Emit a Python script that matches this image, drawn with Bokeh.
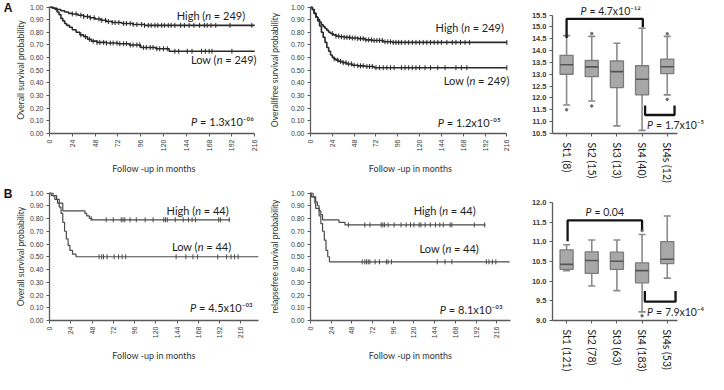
import numpy as np
from math import pi
from bokeh.plotting import figure
from bokeh.layouts import column, row
from bokeh.models import Label, FixedTicker, NumeralTickFormatter, Range1d, LinearAxis
from bokeh.embed import file_html
from bokeh.resources import INLINE

# ---------------- data ----------------
month_ticks = [0, 24, 48, 72, 96, 120, 144, 168, 192, 216]
surv_ticks = [0.0, 0.1, 0.2, 0.3, 0.4, 0.5, 0.6, 0.7, 0.8, 0.9, 1.0]

# Panel A, overall survival
a1_high_t = [0, 4, 8, 12, 16, 20, 24, 30, 36, 42, 48, 54, 60, 66, 76, 88, 100, 216]
a1_high_s = [1.0, 0.99, 0.98, 0.97, 0.96, 0.95, 0.945, 0.935, 0.925, 0.915, 0.905, 0.895, 0.885, 0.878, 0.87, 0.862, 0.855, 0.855]
a1_low_t = [0, 3, 6, 8, 10, 12, 14, 16, 18, 21, 24, 28, 32, 36, 40, 44, 50, 60, 72, 84, 96, 112, 126, 216]
a1_low_s = [1.0, 0.99, 0.98, 0.96, 0.94, 0.91, 0.89, 0.87, 0.855, 0.84, 0.82, 0.80, 0.78, 0.765, 0.745, 0.73, 0.72, 0.715, 0.71, 0.70, 0.68, 0.67, 0.65, 0.65]
a1_high_cens = [24, 28, 33, 36, 40, 43, 47, 52, 55, 59, 62, 66, 69, 73, 78, 81, 85, 88, 92, 97, 100, 104, 107, 111, 114, 118, 121, 125, 128, 132, 138, 142, 147, 152, 158, 163, 166, 170, 175, 190, 213]
a1_low_cens = [33, 38, 42, 46, 50, 53, 57, 60, 64, 67, 71, 74, 78, 81, 85, 88, 92, 95, 99, 102, 106, 109, 113, 116, 120, 124, 132, 136, 145, 150, 160, 164, 168, 171, 192]

# Panel A, overallfree survival
a2_high_t = [0, 2, 4, 6, 8, 10, 12, 14, 16, 18, 20, 22, 25, 28, 32, 37, 44, 52, 60, 68, 80, 90, 216]
a2_high_s = [1.0, 0.98, 0.95, 0.92, 0.90, 0.88, 0.86, 0.845, 0.83, 0.815, 0.80, 0.79, 0.78, 0.77, 0.765, 0.76, 0.755, 0.75, 0.74, 0.735, 0.725, 0.72, 0.72]
a2_low_t = [0, 2, 4, 6, 8, 10, 12, 14, 16, 18, 20, 22, 24, 26, 28, 31, 35, 40, 46, 52, 60, 70, 216]
a2_low_s = [1.0, 0.98, 0.95, 0.92, 0.89, 0.85, 0.80, 0.76, 0.72, 0.68, 0.65, 0.62, 0.60, 0.59, 0.58, 0.57, 0.56, 0.55, 0.54, 0.535, 0.53, 0.52, 0.52]
a2_high_cens = [24, 28, 31, 34, 37, 40, 43, 46, 49, 52, 55, 58, 61, 64, 67, 70, 73, 76, 79, 82, 85, 88, 91, 94, 97, 100, 104, 108, 112, 116, 120, 124, 128, 132, 136, 140, 144, 150, 156, 160, 165, 170, 175, 216]
a2_low_cens = [26, 30, 33, 36, 39, 42, 45, 48, 52, 55, 58, 62, 65, 68, 72, 76, 80, 84, 88, 92, 100, 104, 108, 112, 116, 120, 126, 132, 140, 148, 160, 166, 172, 216]

# Panel B, overall survival
b1_high_t = [0, 4, 8, 11, 15, 40, 42, 45, 48, 204]
b1_high_s = [1.0, 0.98, 0.95, 0.92, 0.86, 0.84, 0.82, 0.80, 0.79, 0.79]
b1_low_t = [0, 2, 6, 9, 11, 13, 15, 17, 19, 21, 23, 26, 30, 236]
b1_low_s = [1.0, 0.98, 0.95, 0.92, 0.89, 0.84, 0.77, 0.70, 0.64, 0.59, 0.55, 0.52, 0.50, 0.50]
b1_high_cens = [47, 64, 72, 81, 83, 85, 91, 98, 108, 117, 129, 131, 133, 142, 151, 157, 161, 165, 191, 193, 203]
b1_low_cens = [56, 59, 61, 65, 73, 78, 82, 86, 143, 154, 162, 167, 190, 200, 205, 209, 213]

# Panel B, relapsefree survival
b2_high_t = [0, 3, 6, 8, 10, 12, 14, 33, 40, 203]
b2_high_s = [1.0, 0.97, 0.93, 0.90, 0.86, 0.83, 0.79, 0.77, 0.75, 0.75]
b2_low_t = [0, 1, 5, 6, 10, 12, 14, 16, 18, 20, 22, 231]
b2_low_s = [1.0, 0.97, 0.92, 0.88, 0.82, 0.76, 0.70, 0.63, 0.55, 0.50, 0.46, 0.46]
b2_high_cens = [44, 63, 69, 82, 84, 86, 90, 97, 105, 111, 116, 120, 126, 128, 133, 139, 145, 150, 154, 162, 164, 190, 202]
b2_low_cens = [60, 63, 65, 67, 69, 75, 80, 88, 90, 94, 147, 156, 164, 204, 207, 211, 215]

# Box plots
a3_labels = ["St1 (8)", "St2 (15)", "St3 (13)", "St4 (40)", "St4s (12)"]
a3_upper = [14.63, 14.60, 14.31, 14.94, 14.60]
a3_q3 = [13.80, 13.58, 13.56, 13.36, 13.64]
a3_med = [13.40, 13.31, 13.11, 12.79, 13.32]
a3_q1 = [13.00, 12.90, 12.44, 12.13, 13.03]
a3_lower = [11.70, 11.87, 10.82, 10.63, 12.13]
a3_out_x = [1, 2, 2, 5, 5]
a3_out_y = [11.50, 14.72, 11.66, 14.71, 11.94]

b3_labels = ["St1 (121)", "St2 (78)", "St3 (63)", "St4 (183)", "St4s (53)"]
b3_upper = [10.93, 11.05, 11.05, 11.19, 11.66]
b3_q3 = [10.80, 10.75, 10.74, 10.47, 11.01]
b3_med = [10.43, 10.53, 10.51, 10.27, 10.56]
b3_q1 = [10.30, 10.20, 10.30, 9.96, 10.45]
b3_lower = [10.27, 9.88, 9.76, 9.22, 10.08]
b3_out_x = [4, 4]
b3_out_y = [11.29, 9.12]

# ---------------- styling ----------------
FONT = "Lato"
TICKFONT = "Liberation Sans"
TXT = "#1e1e1e"
AX = "#5a5a5a"


def base_axes(p):
    p.outline_line_color = None
    p.xgrid.visible = False
    p.ygrid.visible = False
    for ax in (p.xaxis[0], p.yaxis[0]):
        ax.axis_line_color = AX
        ax.axis_line_width = 1.3
        ax.major_tick_line_color = AX
        ax.major_tick_in = 0
        ax.major_tick_out = 3
        ax.minor_tick_line_color = None
        ax.major_label_text_font = TICKFONT
        ax.major_label_text_color = "#3a3a3a"
        ax.major_label_standoff = 3
        ax.axis_label_text_font = FONT
        ax.axis_label_text_font_style = "normal"
        ax.axis_label_text_color = "#333333"


def rich(p, x, y, pre, it, post, gap, size="11px"):
    kw = dict(x=x, y=y, text_font=FONT, text_font_size=size, text_color=TXT,
              text_baseline="middle")
    if pre:
        p.add_layout(Label(text=pre, text_align="right", **kw))
    p.add_layout(Label(text=it, text_align="left", text_font_style="italic", **kw))
    p.add_layout(Label(text=post, text_align="left", x_offset=gap, **kw))


def panel_letter(p, letter):
    ax = LinearAxis(ticker=FixedTicker(ticks=[1.0]), major_label_overrides={1.0: letter},
                    axis_line_color=None, major_tick_line_color=None, minor_tick_line_color=None,
                    major_tick_out=0, major_tick_in=0,
                    major_label_standoff=0, major_label_text_font="Liberation Sans",
                    major_label_text_font_size="12px", major_label_text_font_style="bold",
                    major_label_text_color="#111111")
    p.add_layout(ax, "left")


def km(width, height, mbl, mbr, mbt, mbb, xend, xbound, ylabel, curves, color, lw, ystand=8):
    p = figure(width=width, height=height, x_range=Range1d(0, xend), y_range=Range1d(0, 1.004),
               output_backend="svg", toolbar_location=None,
               min_border_left=mbl, min_border_right=mbr, min_border_top=mbt, min_border_bottom=mbb)
    base_axes(p)
    p.xaxis.ticker = FixedTicker(ticks=month_ticks)
    p.xaxis.bounds = (0, xbound)
    p.xaxis.major_label_orientation = pi / 2
    p.xaxis.major_label_text_font_size = "7px"
    p.xaxis.axis_label = "Follow -up in months"
    p.xaxis.axis_label_text_font_size = "9px"
    p.xaxis.axis_label_standoff = 9
    p.yaxis.ticker = FixedTicker(ticks=surv_ticks)
    p.yaxis.formatter = NumeralTickFormatter(format="0.00")
    p.yaxis.major_label_text_font_size = "7px"
    p.yaxis.axis_label = ylabel
    p.yaxis.axis_label_text_font_size = "8.5px"
    p.yaxis.axis_label_standoff = ystand
    for t, s, ct in curves:
        t = np.asarray(t, float)
        s = np.asarray(s, float)
        p.step(t, s, mode="after", line_color=color, line_width=lw)
        ct = np.asarray(ct, float)
        idx = np.searchsorted(t, ct, side="right") - 1
        p.scatter(ct, s[idx], marker="dash", angle=pi / 2, size=5,
                  line_color=color, line_width=1)
    return p


def boxfig(width, height, mbl, mbt, mbb, ylo, yhi, ybounds, yticks, labels,
           upper, q3, med, q1, lower, ox, oy):
    p = figure(width=width, height=height, x_range=Range1d(0.44, 6.64), y_range=Range1d(ylo, yhi),
               output_backend="svg", toolbar_location=None,
               min_border_left=mbl, min_border_right=0, min_border_top=mbt, min_border_bottom=mbb)
    base_axes(p)
    xs = np.arange(1, len(labels) + 1)
    wc = "#8a8a8a"
    p.segment(xs, lower, xs, q1, line_color=wc, line_width=1.6)
    p.segment(xs, q3, xs, upper, line_color=wc, line_width=1.6)
    p.segment(xs - 0.14, upper, xs + 0.14, upper, line_color=wc, line_width=1.6)
    p.segment(xs - 0.14, lower, xs + 0.14, lower, line_color=wc, line_width=1.6)
    p.vbar(x=xs, width=0.52, bottom=q1, top=q3, fill_color="#a8a8a8",
           line_color="#7c7c7c", line_width=1.3)
    p.segment(xs - 0.26, med, xs + 0.26, med, line_color="#555555", line_width=1.6)
    p.scatter(ox, oy, size=2.5, color="#6e6e6e")
    p.xaxis.ticker = FixedTicker(ticks=list(xs))
    p.xaxis.major_label_overrides = {int(i): lab for i, lab in zip(xs, labels)}
    p.xaxis.bounds = (0.44, 5.4)
    p.xaxis.major_label_orientation = -pi / 2
    p.xaxis.major_label_text_font = FONT
    p.xaxis.major_label_text_font_size = "10.5px"
    p.xaxis.major_label_text_color = TXT
    p.xaxis.major_label_standoff = 6
    p.yaxis.ticker = FixedTicker(ticks=yticks)
    p.yaxis.formatter = NumeralTickFormatter(format="0.0")
    p.yaxis.bounds = ybounds
    p.yaxis.major_label_text_font_size = "7.5px"
    p.yaxis.major_label_text_font_style = "bold"
    return p


def bracket(p, x0, y0, x1, y1, ylev):
    p.line([x0, x0, x1, x1], [y0, ylev, ylev, y1], line_color="#141414", line_width=2.3)


W1, W2, W3 = 266, 258, 184

# ---------------- panel A ----------------
pA1 = km(W1, 186, 40, 8, 6, 48, 220, 216, "Overall survival probability",
         [(a1_high_t, a1_high_s, a1_high_cens), (a1_low_t, a1_low_s, a1_low_cens)], "#2a2a2a", 1.6,
         ystand=1)
panel_letter(pA1, "A")
rich(pA1, 164, 0.93, "High (", "n", "= 249)", 8.5)
rich(pA1, 176, 0.585, "Low (", "n", "= 249)", 8.5)
rich(pA1, 149, 0.096, "", "P", "= 1.3x10\u207b\u2070\u2076", 9)

pA2 = km(W2, 186, 42, 14, 6, 48, 220, 216, "Overallfree survival probability",
         [(a2_high_t, a2_high_s, a2_high_cens), (a2_low_t, a2_low_s, a2_low_cens)], "#2a2a2a", 1.6)
rich(pA2, 169, 0.84, "High (", "n", "= 249)", 8.5)
rich(pA2, 175, 0.42, "Low (", "n", "= 249)", 8.5)
rich(pA2, 140, 0.087, "", "P", "= 1.2x10\u207b\u2070\u2075", 9)

pA3 = boxfig(W3, 186, 28, 0, 53, 10.5, 15.86, (10.5, 15.5),
             [10.5, 11.0, 11.5, 12.0, 12.5, 13.0, 13.5, 14.0, 14.5, 15.0, 15.5],
             a3_labels, a3_upper, a3_q3, a3_med, a3_q1, a3_lower, a3_out_x, a3_out_y)
bracket(pA3, 1.0, 14.53, 4.03, 14.98, 15.34)
bracket(pA3, 4.12, 11.68, 5.29, 11.68, 11.28)
rich(pA3, 1.55, 15.66, "", "P", "= 4.7x10\u207b\u00b9\u00b2", 9, size="10.5px")
rich(pA3, 4.2, 10.86, "", "P", "= 1.7x10\u207b\u2075", 9, size="10.5px")

# ---------------- panel B ----------------
pB1 = km(W1, 188, 40, 8, 6, 50, 236, 236, "Overall survival probability",
         [(b1_high_t, b1_high_s, b1_high_cens), (b1_low_t, b1_low_s, b1_low_cens)], "#4a4a4a", 1.2,
         ystand=1)
panel_letter(pB1, "B")
rich(pB1, 164.5, 0.86, "High (", "n", "= 44)", 8.5)
rich(pB1, 167.4, 0.58, "Low (", "n", "= 44)", 8.5)
rich(pB1, 158.6, 0.10, "", "P", "= 4.5x10\u207b\u2070\u00b3", 9)

pB2 = km(W2, 188, 42, 14, 6, 50, 232, 232, "relapsefree survival probability",
         [(b2_high_t, b2_high_s, b2_high_cens), (b2_low_t, b2_low_s, b2_low_cens)], "#4a4a4a", 1.2)
rich(pB2, 152.8, 0.86, "High (", "n", "= 44)", 8.5)
rich(pB2, 156.5, 0.566, "Low (", "n", "= 44)", 8.5)
rich(pB2, 150, 0.087, "", "P", "= 8.1x10\u207b\u2070\u00b3", 9)

pB3 = boxfig(W3, 188, 28, 0, 52, 9.0, 12.26, (9.0, 12.0),
             [9.0, 9.5, 10.0, 10.5, 11.0, 11.5, 12.0],
             b3_labels, b3_upper, b3_q3, b3_med, b3_q1, b3_lower, b3_out_x, b3_out_y)
bracket(pB3, 1.04, 11.02, 4.0, 11.31, 11.55)
bracket(pB3, 4.11, 9.75, 5.33, 9.75, 9.48)
rich(pB3, 1.75, 11.76, "", "P", "= 0.04", 9, size="10.5px")
rich(pB3, 4.2, 9.22, "", "P", "= 7.9x10\u207b\u2074", 9, size="10.5px")

layout = column(row(pA1, pA2, pA3, spacing=0), row(pB1, pB2, pB3, spacing=0), spacing=0)

open("out.html", "w").write(file_html(layout, INLINE))
